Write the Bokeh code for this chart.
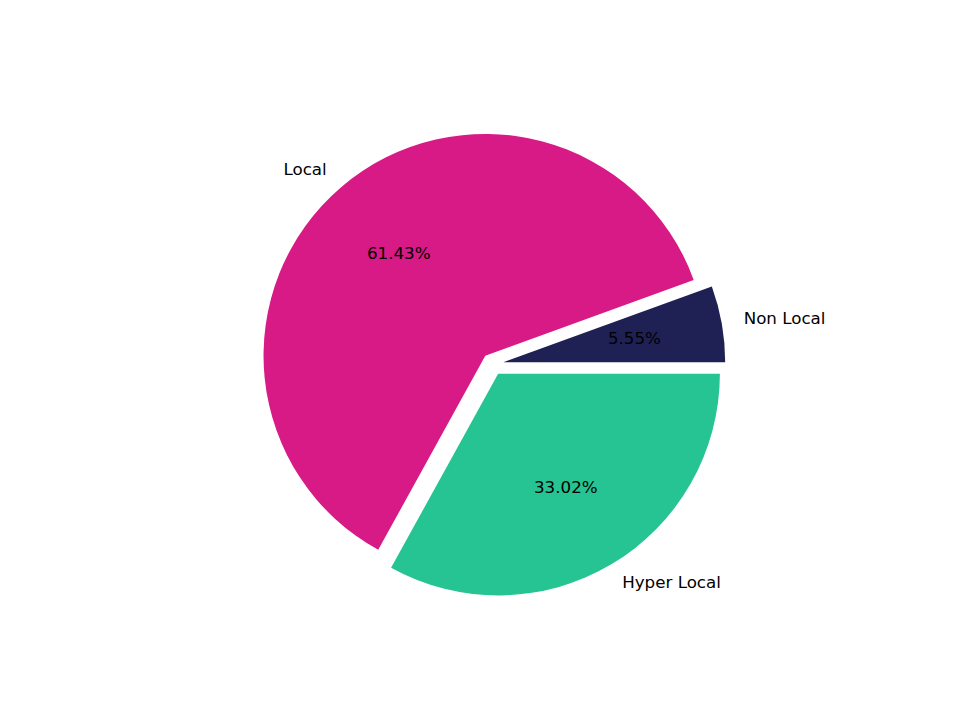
import math
from bokeh.plotting import figure
from bokeh.models import Range1d, ColumnDataSource
from bokeh.core.properties import value
from bokeh.embed import file_html
from bokeh.resources import INLINE

labels = ["Non Local", "Local", "Hyper Local"]
shares = [5.55, 61.43, 33.02]
colors = ["#1f2054", "#d81a86", "#25c492"]
explode = [0.05, 0.05, 0.05]

W, H = 944, 704
scale = 554.4 / 2.5  # px per data unit
ox, oy = 492, 363.6  # data origin in figure pixels

p = figure(width=W, height=H, output_backend="svg", toolbar_location=None,
           x_range=Range1d(-ox / scale, (W - ox) / scale),
           y_range=Range1d(-(H - oy) / scale, oy / scale),
           min_border=0)
p.axis.visible = False
p.grid.visible = False
p.outline_line_color = None
p.background_fill_color = "white"

total = sum(shares)
starts, ends, cx, cy = [], [], [], []
lx, ly, lalign, px, py, pct = [], [], [], [], [], []
acc = 0.0
for lab, s, e in zip(labels, shares, explode):
    a0 = 2 * math.pi * acc / total
    acc += s
    a1 = 2 * math.pi * acc / total
    mid = (a0 + a1) / 2
    x0 = e * math.cos(mid)
    y0 = e * math.sin(mid)
    starts.append(a0); ends.append(a1); cx.append(x0); cy.append(y0)
    lx.append(x0 + 1.1 * math.cos(mid)); ly.append(y0 + 1.1 * math.sin(mid))
    lalign.append("left" if math.cos(mid) > 0 else "right")
    px.append(x0 + 0.6 * math.cos(mid)); py.append(y0 + 0.6 * math.sin(mid))
    pct.append("%.2f%%" % s)

src = ColumnDataSource(dict(x=cx, y=cy, start=starts, end=ends, color=colors))
p.wedge(x="x", y="y", radius=1.0, start_angle="start", end_angle="end",
        fill_color="color", line_color=None, source=src)

lsrc = ColumnDataSource(dict(x=lx, y=ly, text=labels, align=lalign))
p.text(x="x", y="y", text="text", text_align="align", text_baseline="middle",
       text_font=value("DejaVu Sans"), text_font_size="16.7px", text_color="black",
       y_offset=-1.5, source=lsrc)

psrc = ColumnDataSource(dict(x=px, y=py, text=pct))
p.text(x="x", y="y", text="text", text_align="center", text_baseline="middle",
       text_font=value("DejaVu Sans"), text_font_size="16.7px", text_color="black",
       y_offset=-1.5, source=psrc)

open("out.html", "w").write(file_html(p, INLINE))
